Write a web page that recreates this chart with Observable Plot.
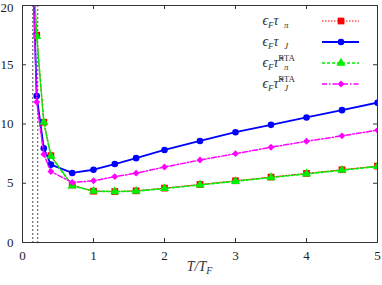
<!DOCTYPE html>
<html><head><meta charset="utf-8">
<script src="https://cdn.jsdelivr.net/npm/d3@7"></script>
<script src="https://cdn.jsdelivr.net/npm/@observablehq/plot@0.6"></script>
<style>body{margin:0;background:#fff}</style>
</head><body><div id="chart"></div>
<script>
const T       = [0.15, 0.2, 0.3, 0.4, 0.7, 1.0, 1.3, 1.6, 2.0, 2.5, 3.0, 3.5, 4.0, 4.5, 5.0];
const tauPi   = [23, 17.5, 10.15, 7.33, 4.85, 4.33, 4.3, 4.36, 4.59, 4.9, 5.21, 5.52, 5.83, 6.14, 6.45];
const tauJ    = [22.5, 12.36, 7.95, 6.57, 5.87, 6.14, 6.62, 7.12, 7.81, 8.57, 9.31, 9.93, 10.55, 11.17, 11.8];
const tauPiR  = [23.5, 17.4, 10.15, 7.3, 4.79, 4.33, 4.3, 4.33, 4.56, 4.86, 5.17, 5.48, 5.79, 6.1, 6.42];
const tauJR   = [22, 11.85, 7.44, 5.99, 5.07, 5.21, 5.56, 5.85, 6.37, 6.96, 7.5, 8.04, 8.54, 9.0, 9.48];
const tcLines = [0.145, 0.215];
const xTicks  = [0, 1, 2, 3, 4, 5];
const yTicks  = [0, 5, 10, 15, 20];

const serif = "'Liberation Serif', 'DejaVu Serif', serif";
const series = [
  {sub: "π", tilde: false, values: tauPi,  color: "#ff0000", width: 1,   dash: "1.5,1.5", symbol: "square",   r: 3.8},
  {sub: "J", tilde: false, values: tauJ,   color: "#0000ff", width: 1.8, dash: null,      symbol: "circle",   r: 3.3},
  {sub: "π", tilde: true,  values: tauPiR, color: "#00ee00", width: 1.6, dash: "3,2",     symbol: "triangle", r: 3.4},
  {sub: "J", tilde: true,  values: tauJR,  color: "#ff00ff", width: 1.5, dash: "5,2,1.5,2", symbol: "diamond2", r: 3.1}
];

const W = 382, H = 285, mL = 22, mR = 5, mT = 5, mB = 43;
const ph = H - mT - mB, pw = W - mL - mR, tk = 4;

const marks = [
  Plot.ruleX(tcLines, {x: d => d, stroke: "#000", strokeWidth: 0.7, strokeDasharray: "2,2"})
];
for (const s of series) {
  const data = T.map((t, i) => ({T: t, v: s.values[i]}));
  marks.push(Plot.line(data, {x: "T", y: "v", stroke: s.color, strokeWidth: s.width, strokeDasharray: s.dash, clip: true}));
  marks.push(Plot.dot(data, {x: "T", y: "v", symbol: s.symbol, r: s.r, fill: s.color, stroke: "none", clip: true}));
}
marks.push(
  Plot.frame({stroke: "#333", strokeWidth: 1}),
  Plot.ruleX(xTicks, {x: d => d, insetTop: ph - tk, stroke: "#333"}),
  Plot.ruleX(xTicks, {x: d => d, insetBottom: ph - tk, stroke: "#333"}),
  Plot.ruleY(yTicks, {y: d => d, insetRight: pw - tk, stroke: "#333"}),
  Plot.ruleY(yTicks, {y: d => d, insetLeft: pw - tk, stroke: "#333"}),
  Plot.axisX(xTicks, {tickSize: 0, tickPadding: 8, label: null}),
  Plot.axisY(yTicks.slice(0, -1), {tickSize: 0, tickPadding: 9, label: null}),
  Plot.axisY(yTicks.slice(-1), {tickSize: 0, tickPadding: 9, label: null, dy: 2})
);

const svg = Plot.plot({
  width: W, height: H, marginLeft: mL, marginRight: mR, marginTop: mT, marginBottom: mB,
  style: {fontFamily: serif, fontSize: "13px", background: "#fff", color: "#222"},
  x: {domain: [0, 5]},
  y: {domain: [0, 20]},
  marks
});
document.getElementById("chart").appendChild(svg);

const g = d3.select(svg).append("g").attr("font-family", serif).attr("fill", "#333");
// x label
const xl = g.append("text").attr("x", mL + pw / 2).attr("y", 271).attr("text-anchor", "middle").attr("font-size", 14).attr("font-style", "italic");
xl.append("tspan").text("T/T");
xl.append("tspan").attr("font-size", 10).attr("dy", 3).text("F");

// legend
const rowY = [21, 42, 63, 84];
series.forEach((s, i) => {
  const y = rowY[i], x = 270.5;
  const t = g.append("text").attr("x", x).attr("y", y + 4).attr("font-size", 14).attr("font-style", "italic");
  t.append("tspan").text("ϵ");
  t.append("tspan").attr("font-size", 9).attr("dy", 3).text("F");
  t.append("tspan").attr("dy", -3).text(s.tilde ? "τ\u0303" : "τ");
  const w = t.node().getComputedTextLength();
  g.append("text").attr("x", x + w - 0.5).attr("y", y + 7).attr("font-size", 9).attr("font-style", "italic").text(s.sub);
  if (s.tilde) g.append("text").attr("x", x + w).attr("y", y - 2).attr("font-size", 9).text("RTA");
  g.append("line").attr("x1", 322).attr("x2", 359).attr("y1", y).attr("y2", y)
    .attr("stroke", s.color).attr("stroke-width", s.width).attr("stroke-dasharray", s.dash);
  const sym = {square: d3.symbolSquare, circle: d3.symbolCircle, triangle: d3.symbolTriangle, diamond2: d3.symbolDiamond2}[s.symbol];
  g.append("path").attr("d", d3.symbol(sym, Math.PI * s.r * s.r)()).attr("transform", `translate(341,${y})`).attr("fill", s.color);
});
</script>
</body></html>
